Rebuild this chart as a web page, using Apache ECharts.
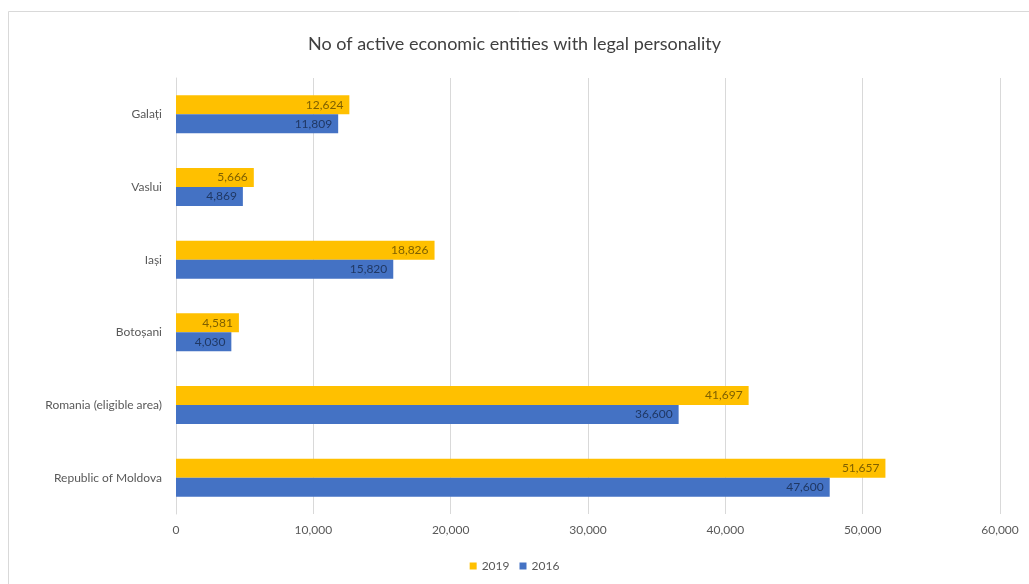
<!DOCTYPE html>
<html>
<head>
<meta charset="utf-8">
<script src="https://cdn.jsdelivr.net/npm/echarts@6/dist/echarts.min.js"></script>
<style>
  html, body { margin: 0; padding: 0; background: #fff; }
  #chart { width: 1029px; height: 584px; }
</style>
</head>
<body>
<div id="chart"></div>
<script>
// Regions, top to bottom
var categories = ['Galați', 'Vaslui', 'Iași', 'Botoșani', 'Romania (eligible area)', 'Republic of Moldova'];
// Active economic entities with legal personality
var values2019 = [12624, 5666, 18826, 4581, 41697, 51657];
var values2016 = [11809, 4869, 15820, 4030, 36600, 47600];
var xTicks = [0, 10000, 20000, 30000, 40000, 50000, 60000];

var FONT = 'Lato, "Open Sans", sans-serif';
function fmt(v) { return v.toLocaleString('en-US'); }

var chart = echarts.init(document.getElementById('chart'));
chart.setOption({
  backgroundColor: '#ffffff',
  animation: false,
  textStyle: { fontFamily: FONT },
  title: {
    text: 'No of active economic entities with legal personality',
    left: 'center',
    top: 30,
    textStyle: { fontFamily: FONT, fontSize: 18, fontWeight: 'normal', color: '#404040' }
  },
  graphic: [{
    type: 'rect',
    shape: { x: 8.5, y: 11.5, width: 1040, height: 600 },
    style: { fill: 'none', stroke: '#d9d9d9', lineWidth: 1 },
    silent: true
  }],
  legend: {
    data: ['2019', '2016'],
    bottom: 7,
    left: 'center',
    itemWidth: 7,
    itemHeight: 7,
    itemGap: 10,
    icon: 'rect',
    textStyle: { fontFamily: FONT, fontSize: 12, color: '#595959' }
  },
  grid: { left: 176, right: 29, top: 78, bottom: 70, containLabel: false },
  xAxis: {
    type: 'value',
    min: xTicks[0],
    max: xTicks[xTicks.length - 1],
    interval: xTicks[1] - xTicks[0],
    axisLine: { show: false },
    axisTick: { show: false },
    axisLabel: { color: '#595959', fontSize: 12, fontFamily: FONT, margin: 10, formatter: fmt },
    splitLine: { lineStyle: { color: '#d9d9d9', width: 1 } }
  },
  yAxis: {
    type: 'category',
    data: categories,
    inverse: true,
    axisLine: { lineStyle: { color: '#d9d9d9' } },
    axisTick: { show: false },
    axisLabel: { color: '#595959', fontSize: 12, fontFamily: FONT, margin: 14 }
  },
  series: [
    {
      name: '2019',
      type: 'bar',
      data: values2019,
      barWidth: 19,
      barGap: '0%',
      itemStyle: { color: '#FFC000' },
      label: {
        show: true, position: 'insideRight', distance: 6,
        color: '#7f6000', fontSize: 12, fontFamily: FONT,
        formatter: function (p) { return fmt(p.value); }
      }
    },
    {
      name: '2016',
      type: 'bar',
      data: values2016,
      barWidth: 19,
      barGap: '0%',
      itemStyle: { color: '#4472C4' },
      label: {
        show: true, position: 'insideRight', distance: 6,
        color: '#203864', fontSize: 12, fontFamily: FONT,
        formatter: function (p) { return fmt(p.value); }
      }
    }
  ]
});
</script>
</body>
</html>
